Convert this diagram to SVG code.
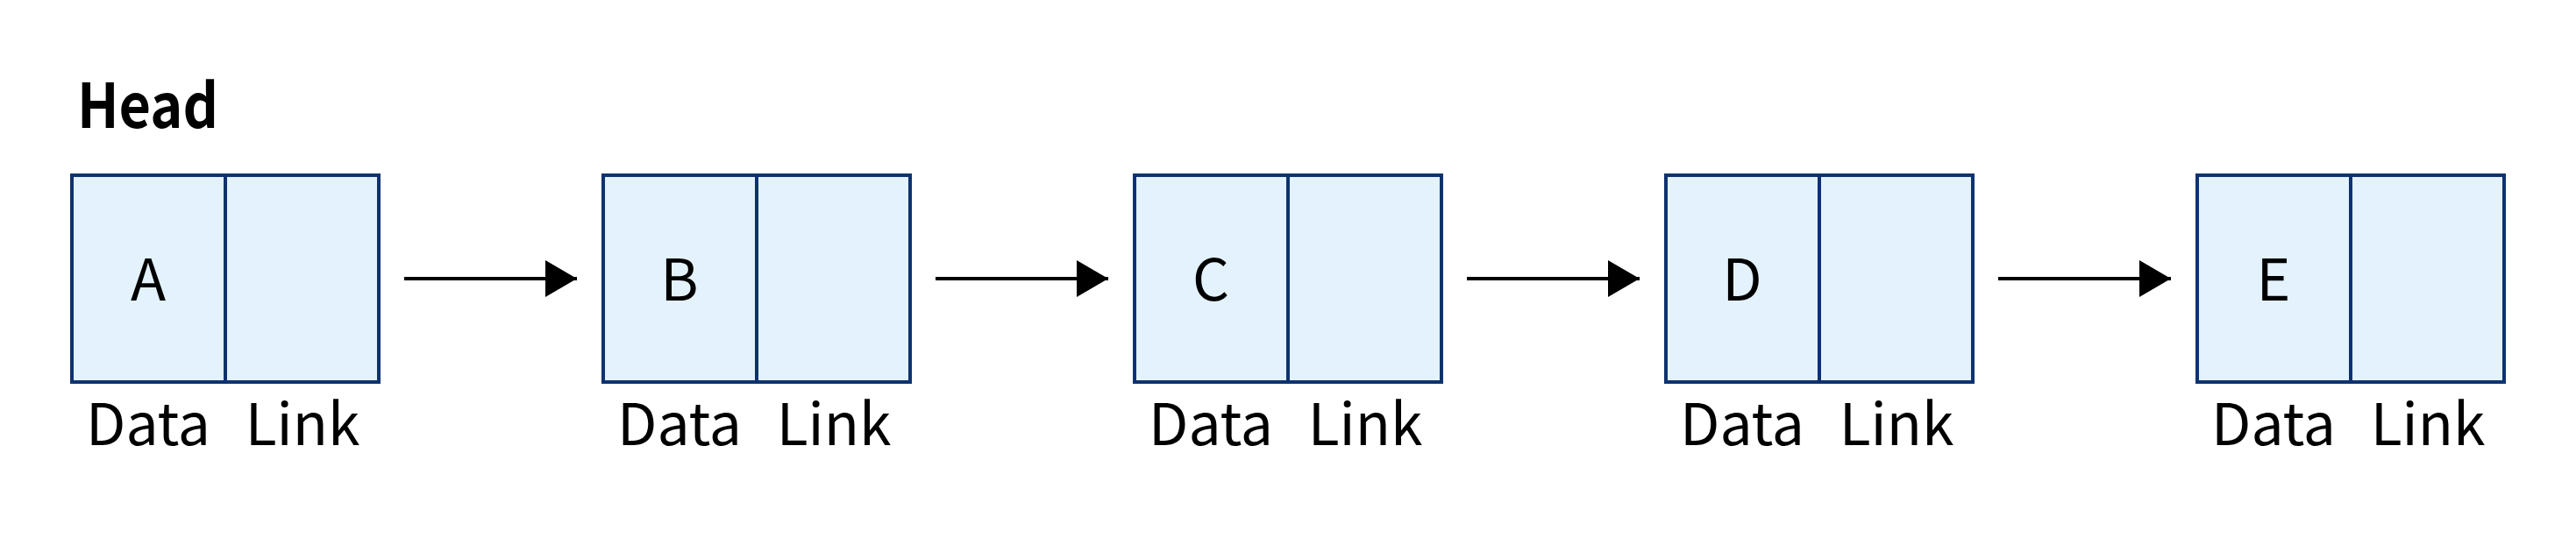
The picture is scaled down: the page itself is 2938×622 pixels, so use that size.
<svg xmlns="http://www.w3.org/2000/svg" width="2938" height="622" viewBox="0 0 2938 622">
<defs>
<style>
.cell{fill:#e3f2fd;stroke:#0d3270;stroke-width:4}
.div{stroke:#0d3270;stroke-width:4}
.t{font-family:"Noto Sans CJK SC","Noto Sans",sans-serif;font-size:66px;fill:#000;text-anchor:middle}
.head{font-family:"Noto Sans CJK SC","Noto Sans",sans-serif;font-size:70px;font-weight:bold;fill:#000}
.conn{stroke:#000;stroke-width:4;fill:none}
</style>
<marker id="arr" markerUnits="userSpaceOnUse" markerWidth="36" markerHeight="42" refX="36" refY="21" orient="auto">
<path d="M0,0 L36,21 L0,42 z" fill="#000"/>
</marker>
</defs>
<rect width="2938" height="622" fill="#fff"/>
<text class="head" x="88" y="146" textLength="161" lengthAdjust="spacingAndGlyphs">Head</text>
<g id="nodeA">
<rect class="cell" x="82" y="200" width="350" height="236"/>
<line class="div" x1="257" y1="200" x2="257" y2="436"/>
<text class="t" x="169" y="343">A</text>
<text class="t" x="169" y="508">Data</text>
<text class="t" x="345" y="508">Link</text>
</g>
<g id="nodeB">
<rect class="cell" x="688" y="200" width="350" height="236"/>
<line class="div" x1="863" y1="200" x2="863" y2="436"/>
<text class="t" x="775" y="343">B</text>
<text class="t" x="775" y="508">Data</text>
<text class="t" x="951" y="508">Link</text>
</g>
<g id="nodeC">
<rect class="cell" x="1294" y="200" width="350" height="236"/>
<line class="div" x1="1469" y1="200" x2="1469" y2="436"/>
<text class="t" x="1381" y="343">C</text>
<text class="t" x="1381" y="508">Data</text>
<text class="t" x="1557" y="508">Link</text>
</g>
<g id="nodeD">
<rect class="cell" x="1900" y="200" width="350" height="236"/>
<line class="div" x1="2075" y1="200" x2="2075" y2="436"/>
<text class="t" x="1987" y="343">D</text>
<text class="t" x="1987" y="508">Data</text>
<text class="t" x="2163" y="508">Link</text>
</g>
<g id="nodeE">
<rect class="cell" x="2506" y="200" width="350" height="236"/>
<line class="div" x1="2681" y1="200" x2="2681" y2="436"/>
<text class="t" x="2593" y="343">E</text>
<text class="t" x="2593" y="508">Data</text>
<text class="t" x="2769" y="508">Link</text>
</g>
<g id="connectors">
<line class="conn" x1="461" y1="318" x2="658" y2="318" marker-end="url(#arr)"/>
<line class="conn" x1="1067" y1="318" x2="1264" y2="318" marker-end="url(#arr)"/>
<line class="conn" x1="1673" y1="318" x2="1870" y2="318" marker-end="url(#arr)"/>
<line class="conn" x1="2279" y1="318" x2="2476" y2="318" marker-end="url(#arr)"/>
</g>
</svg>
